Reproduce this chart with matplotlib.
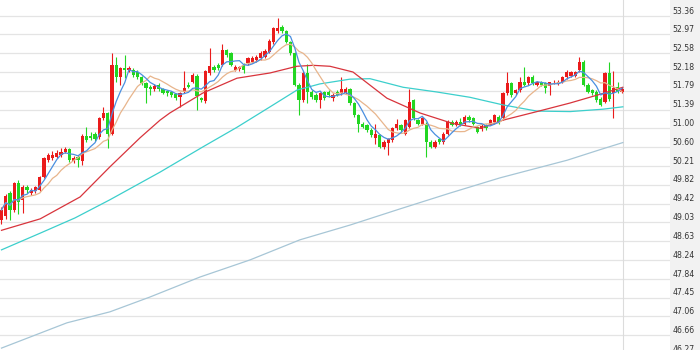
import numpy as np
import pandas as pd
import matplotlib
matplotlib.use('Agg')
import matplotlib.pyplot as plt
from matplotlib.patches import Rectangle

# 日K数据 (开, 高, 低, 收)
opens = [49.08, 49.15, 49.64, 49.29, 49.85, 49.50, 49.77, 49.64, 49.68, 49.71,
         49.98, 50.33, 50.37, 50.40, 50.44, 50.51, 50.56, 50.31, 50.40, 50.31,
         50.84, 50.84, 50.89, 50.82, 51.21, 51.31, 50.89, 52.33, 52.08, 52.26,
         52.22, 52.22, 52.19, 52.08, 51.94, 51.87, 51.82, 51.91, 51.82, 51.78,
         51.77, 51.71, 51.66, 51.77, 51.91, 51.98, 52.10, 51.63, 51.57, 52.15,
         52.29, 52.33, 52.33, 52.64, 52.57, 52.22, 52.24, 52.33, 52.36, 52.40,
         52.43, 52.47, 52.50, 52.60, 52.80, 53.04, 53.13, 53.04, 52.81, 52.57,
         51.91, 51.59, 52.15, 51.77, 51.70, 51.59, 51.77, 51.77, 51.63, 51.77,
         51.73, 51.75, 51.82, 51.52, 51.28, 51.10, 51.07, 50.96, 50.79, 50.86,
         50.60, 50.70, 50.75, 51.00, 51.07, 50.89, 51.03, 51.59, 51.17, 51.10,
         51.10, 50.72, 50.61, 50.77, 50.72, 50.89, 51.14, 51.07, 51.14, 51.10,
         51.24, 51.21, 51.03, 50.98, 51.07, 51.10, 51.14, 51.24, 51.21, 51.73,
         51.94, 51.73, 51.80, 51.98, 51.94, 52.08, 51.91, 51.98, 51.94, 51.89,
         51.96, 51.93, 51.98, 52.07, 52.10, 52.10, 52.22, 52.40, 51.91, 51.80,
         51.77, 51.62, 51.55, 52.15, 51.73, 51.87, 51.77]
highs = [49.35, 49.62, 49.68, 49.88, 49.92, 49.80, 49.82, 49.74, 49.79, 50.00,
         50.40, 50.48, 50.52, 50.55, 50.58, 50.60, 50.58, 50.42, 50.43, 50.88,
         51.03, 50.92, 50.92, 51.24, 51.45, 51.35, 52.57, 52.50, 52.28, 52.53,
         52.30, 52.26, 52.22, 52.10, 51.96, 51.90, 51.92, 51.94, 51.85, 51.80,
         51.79, 51.73, 51.76, 52.20, 51.98, 52.15, 52.13, 51.66, 52.23, 52.68,
         52.32, 52.36, 52.77, 52.67, 52.60, 52.32, 52.31, 52.36, 52.50, 52.51,
         52.53, 52.62, 52.66, 52.87, 53.13, 53.31, 53.16, 53.06, 52.83, 52.60,
         51.94, 52.20, 52.34, 51.80, 51.73, 51.76, 51.79, 51.80, 51.73, 51.80,
         52.08, 51.86, 51.85, 51.55, 51.30, 51.13, 51.10, 51.00, 51.10, 50.89,
         50.75, 50.80, 51.03, 51.20, 51.10, 51.20, 51.82, 51.62, 51.20, 51.24,
         51.14, 50.75, 50.75, 50.80, 50.92, 51.17, 51.17, 51.17, 51.22, 51.27,
         51.28, 51.24, 51.05, 51.08, 51.10, 51.20, 51.30, 51.27, 51.76, 52.17,
         51.97, 51.83, 52.08, 52.29, 52.10, 52.12, 52.00, 52.00, 51.96, 51.98,
         52.01, 52.01, 52.10, 52.22, 52.20, 52.20, 52.50, 52.43, 51.94, 51.83,
         51.80, 51.65, 52.18, 52.38, 52.20, 51.96, 51.86]
lows = [49.00, 49.10, 49.08, 49.25, 49.20, 49.22, 49.65, 49.60, 49.65, 49.68,
        49.95, 50.30, 50.33, 50.37, 50.40, 50.48, 50.30, 50.28, 50.19, 50.22,
        50.72, 50.76, 50.74, 50.78, 51.18, 50.58, 50.86, 51.98, 51.90, 52.05,
        52.18, 52.08, 52.03, 51.90, 51.52, 51.70, 51.78, 51.78, 51.72, 51.68,
        51.66, 51.60, 51.45, 51.75, 51.84, 51.95, 51.38, 51.55, 51.54, 52.12,
        52.18, 52.22, 52.30, 52.50, 52.30, 52.20, 52.21, 52.15, 52.33, 52.37,
        52.40, 52.44, 52.47, 52.57, 52.77, 53.00, 53.00, 52.78, 52.54, 51.88,
        51.28, 51.55, 51.52, 51.62, 51.55, 51.42, 51.60, 51.66, 51.58, 51.67,
        51.70, 51.72, 51.48, 51.24, 50.93, 51.00, 50.93, 50.82, 50.68, 50.58,
        50.57, 50.44, 50.72, 50.97, 50.93, 50.86, 51.00, 51.17, 51.07, 51.07,
        50.40, 50.58, 50.58, 50.68, 50.68, 50.86, 51.04, 51.04, 51.04, 51.07,
        51.14, 51.07, 50.90, 50.95, 50.97, 51.06, 51.10, 51.10, 51.17, 51.70,
        51.66, 51.70, 51.77, 51.88, 51.91, 51.91, 51.88, 51.88, 51.73, 51.70,
        51.93, 51.90, 51.95, 52.04, 52.07, 52.07, 52.19, 51.88, 51.74, 51.70,
        51.56, 51.46, 51.52, 51.58, 51.21, 51.74, 51.74]
closes = [49.29, 49.59, 49.29, 49.85, 49.46, 49.77, 49.71, 49.71, 49.76, 49.98,
          50.37, 50.44, 50.44, 50.48, 50.51, 50.56, 50.33, 50.38, 50.33, 50.84,
          50.75, 50.79, 50.77, 51.21, 51.31, 50.89, 52.33, 52.08, 52.26, 52.22,
          52.26, 52.12, 52.08, 51.94, 51.84, 51.82, 51.88, 51.82, 51.75, 51.73,
          51.70, 51.63, 51.73, 51.84, 51.87, 52.12, 51.68, 51.59, 52.20, 52.31,
          52.22, 52.26, 52.64, 52.54, 52.33, 52.29, 52.29, 52.22, 52.47, 52.48,
          52.50, 52.57, 52.61, 52.84, 53.10, 53.10, 53.04, 52.81, 52.57, 51.91,
          51.59, 52.15, 51.77, 51.66, 51.59, 51.73, 51.63, 51.70, 51.70, 51.70,
          51.82, 51.82, 51.52, 51.28, 51.10, 51.03, 50.96, 50.86, 50.89, 50.61,
          50.72, 50.77, 51.00, 51.10, 50.96, 51.17, 51.56, 51.21, 51.10, 51.21,
          50.72, 50.61, 50.72, 50.72, 50.89, 51.14, 51.07, 51.14, 51.07, 51.24,
          51.17, 51.10, 50.93, 51.05, 51.00, 51.17, 51.28, 51.14, 51.73, 51.94,
          51.70, 51.80, 51.98, 51.91, 52.07, 51.94, 51.98, 51.91, 51.84, 51.96,
          51.98, 51.98, 52.07, 52.19, 52.17, 52.17, 52.40, 51.91, 51.77, 51.73,
          51.59, 51.49, 52.15, 51.62, 51.84, 51.77, 51.82]

# 长周期均线 (读图取点)
ma30_x = [0, 9.1, 18.5, 25.5, 32.6, 37.3, 39.6, 47.4, 55.4, 63.2, 69.5, 73.3,
          77.3, 82.7, 90.7, 98.5, 106.2, 112.6, 118, 126, 133.8, 141.5, 146.2]
ma30_v = [48.86, 49.10, 49.56, 50.19, 50.80, 51.17, 51.32, 51.74, 52.05, 52.16,
          52.30, 52.32, 52.30, 52.18, 51.63, 51.32, 51.10, 51.00, 51.17, 51.35,
          51.53, 51.73, 51.86]
ma60_x = [0, 9.1, 17.3, 25.5, 37.3, 47.4, 55.4, 63.2, 69.5, 74.9, 82, 86.7,
          94.5, 102.5, 110.2, 118, 126, 133.8, 141.5, 146.2]
ma60_v = [48.45, 48.80, 49.12, 49.50, 50.08, 50.61, 51.02, 51.45, 51.80, 51.93,
          52.03, 52.04, 51.86, 51.76, 51.65, 51.49, 51.36, 51.35, 51.40, 51.45]
ma120_x = [0, 15.4, 25.5, 34.9, 46.7, 58.5, 70.2, 82, 93.8, 105.5, 117.3,
           133.1, 140.8, 146.2]
ma120_v = [46.39, 46.92, 47.15, 47.46, 47.88, 48.24, 48.66, 48.97, 49.31, 49.64,
           49.96, 50.33, 50.55, 50.70]

y_ticks = [53.36, 52.97, 52.58, 52.18, 51.79, 51.39, 51.00, 50.60, 50.21, 49.82,
           49.42, 49.03, 48.63, 48.24, 47.84, 47.45, 47.06, 46.66, 46.27]

RED = '#ea1b1b'
GREEN = '#22d622'

fig = plt.figure(figsize=(7, 3.5), dpi=100)
# 右侧价格栏底色, 放在坐标系下面
fig.patches.append(Rectangle((670 / 700, 0), 30 / 700, 1, transform=fig.transFigure,
                             facecolor='#f2f2f2', edgecolor='none', zorder=-5))
ax = fig.add_axes([0, 0, 670 / 700, 1])
ax.set_facecolor('white')

for v in y_ticks:
    ax.axhline(v, color='#e4e4e4', linewidth=0.9, zorder=0)
    ax.annotate(f'{v:.2f}', xy=(1, v), xycoords=('axes fraction', 'data'),
                xytext=(1.6, 1.6), textcoords='offset points', ha='left', va='baseline',
                fontsize=5.6, color='#333333', annotation_clip=False)

idx = np.arange(len(closes))
o = np.array(opens)
c = np.array(closes)
colors = np.where(c >= o, RED, GREEN)

ax.vlines(idx, lows, highs, colors=colors, linewidth=0.8, zorder=2)
ax.bar(idx, np.maximum(np.abs(c - o), 0.015), bottom=np.minimum(o, c), width=0.8,
       color=colors, linewidth=0, zorder=3)

ma5 = pd.Series(closes).rolling(5, min_periods=1).mean()
ma10 = pd.Series(closes).rolling(10, min_periods=1).mean()

ax.plot(ma120_x, ma120_v, color='#a7c6d6', linewidth=0.9, zorder=4)
ax.plot(ma60_x, ma60_v, color='#3ccfcc', linewidth=0.9, zorder=4)
ax.plot(ma30_x, ma30_v, color='#d8343c', linewidth=0.9, zorder=4)
ax.plot(idx, ma10, color='#e8b58c', linewidth=0.9, zorder=4)
ax.plot(idx, ma5, color='#4a8fe0', linewidth=0.9, zorder=4)

ax.axvline(len(closes) - 0.75, color='#dcdcdc', linewidth=0.8, zorder=1)

ax.set_xlim(-0.35, 157.3)
ax.set_ylim(46.35, 53.69)
ax.set_xticks([])
ax.set_yticks([])
for s in ax.spines.values():
    s.set_visible(False)

fig.savefig('out.png', dpi=100)
